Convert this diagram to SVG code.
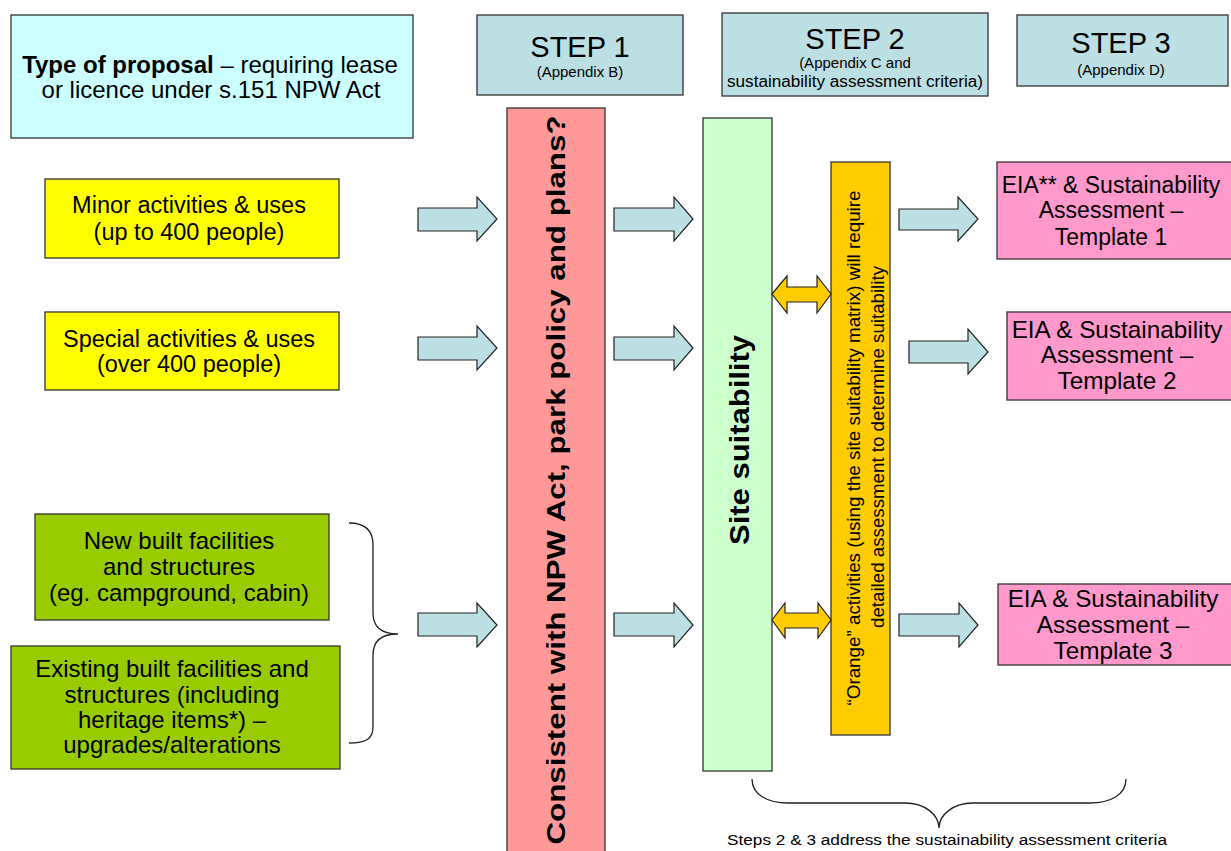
<svg xmlns="http://www.w3.org/2000/svg" width="1231" height="851" viewBox="0 0 1231 851">
<style>
text{font-family:"Liberation Sans",Arial,sans-serif;fill:#000}
.box{stroke:#333;stroke-width:1.3}
.step{fill:#BBDFE2}
.arr{fill:#BBDFE2;stroke:#222;stroke-width:1.2}
.darr{fill:#FFCC00;stroke:#222;stroke-width:1.2}
.brace{fill:none;stroke:#222;stroke-width:1.3}
.c{text-anchor:middle}
</style>
<rect width="1231" height="851" fill="#fff"/>

<g id="type-proposal">
<rect class="box" x="11" y="15" width="402" height="123" fill="#CCFFFF"/>
<text class="c" x="210" y="73" font-size="24"><tspan font-weight="bold">Type of proposal</tspan> – requiring lease</text>
<text class="c" x="211" y="98" font-size="24">or licence under s.151 NPW Act</text>
</g>

<g id="step1">
<rect class="box step" x="477" y="15" width="206" height="80"/>
<text class="c" x="580" y="57" font-size="29">STEP 1</text>
<text class="c" x="580" y="77" font-size="15">(Appendix B)</text>
</g>
<g id="step2">
<rect class="box step" x="722" y="13" width="266" height="83"/>
<text class="c" x="855" y="49" font-size="29">STEP 2</text>
<text class="c" x="855" y="68" font-size="15">(Appendix C and</text>
<text class="c" x="855" y="87" font-size="16" textLength="256" lengthAdjust="spacingAndGlyphs">sustainability assessment criteria)</text>
</g>
<g id="step3">
<rect class="box step" x="1017" y="15" width="211" height="71"/>
<text class="c" x="1121" y="53" font-size="29">STEP 3</text>
<text class="c" x="1121" y="75" font-size="15">(Appendix D)</text>
</g>

<g id="minor">
<rect class="box" x="45" y="179" width="294" height="79" fill="#FFFF00"/>
<text class="c" x="189" y="213" font-size="23.5">Minor activities &amp; uses</text>
<text class="c" x="189" y="240" font-size="23.5">(up to 400 people)</text>
</g>
<g id="special">
<rect class="box" x="45" y="312" width="294" height="78" fill="#FFFF00"/>
<text class="c" x="189" y="347" font-size="23.5">Special activities &amp; uses</text>
<text class="c" x="189" y="372" font-size="23.5">(over 400 people)</text>
</g>
<g id="new-built">
<rect class="box" x="35" y="514" width="294" height="106" fill="#99CC00"/>
<text class="c" x="179" y="549" font-size="24">New built facilities</text>
<text class="c" x="179" y="575" font-size="24">and structures</text>
<text class="c" x="179" y="601" font-size="24">(eg. campground, cabin)</text>
</g>
<g id="existing-built">
<rect class="box" x="11" y="646" width="329" height="123" fill="#99CC00"/>
<text class="c" x="172" y="677" font-size="24">Existing built facilities and</text>
<text class="c" x="172" y="703" font-size="24">structures (including</text>
<text class="c" x="172" y="728" font-size="24">heritage items*) –</text>
<text class="c" x="172" y="753" font-size="24">upgrades/alterations</text>
</g>

<g id="consistent">
<rect class="box" x="507" y="108" width="98" height="750" fill="#FF9999"/>
<text class="c" transform="translate(565,480) rotate(-90)" font-size="26.5" font-weight="bold" textLength="729" lengthAdjust="spacingAndGlyphs">Consistent with NPW Act, park policy and plans?</text>
</g>

<g id="site-suitability">
<rect class="box" x="703" y="118" width="69" height="653" fill="#CCFFCC"/>
<text class="c" transform="translate(749,440) rotate(-90)" font-size="27" font-weight="bold" textLength="210" lengthAdjust="spacingAndGlyphs">Site suitability</text>
</g>

<g id="orange">
<rect class="box" x="831" y="162" width="59" height="573" fill="#FFCC00"/>
<text class="c" transform="translate(860,448) rotate(-90)" font-size="17.5" textLength="515" lengthAdjust="spacingAndGlyphs">“Orange” activities (using the site suitability matrix) will require</text>
<text class="c" transform="translate(884,447) rotate(-90)" font-size="17.5" textLength="362" lengthAdjust="spacingAndGlyphs">detailed assessment to determine suitability</text>
</g>

<g id="template1">
<rect class="box" x="997" y="162" width="236" height="97" fill="#FF99CC"/>
<text class="c" x="1111" y="193" font-size="23">EIA** &amp; Sustainability</text>
<text class="c" x="1111" y="218" font-size="23">Assessment –</text>
<text class="c" x="1111" y="245" font-size="23">Template 1</text>
</g>
<g id="template2">
<rect class="box" x="1007" y="312" width="226" height="88" fill="#FF99CC"/>
<text class="c" x="1117" y="338" font-size="24.3">EIA &amp; Sustainability</text>
<text class="c" x="1117" y="363" font-size="24.3">Assessment –</text>
<text class="c" x="1117" y="389" font-size="24.3">Template 2</text>
</g>
<g id="template3">
<rect class="box" x="998" y="584" width="235" height="81" fill="#FF99CC"/>
<text class="c" x="1113" y="607" font-size="24.3">EIA &amp; Sustainability</text>
<text class="c" x="1113" y="633" font-size="24.3">Assessment –</text>
<text class="c" x="1113" y="659" font-size="24.3">Template 3</text>
</g>

<g id="connectors">
<path class="arr" d="M418,208 H477 V197 L497,219 L477,241 V231 H418 Z"/>
<path class="arr" d="M418,337 H477 V326 L497,348 L477,370 V360 H418 Z"/>
<path class="arr" d="M418,613 H477 V603 L497,625 L477,647 V636 H418 Z"/>
<path class="arr" d="M614,208 H674 V197 L693,219 L674,241 V231 H614 Z"/>
<path class="arr" d="M614,337 H674 V326 L693,348 L674,370 V360 H614 Z"/>
<path class="arr" d="M614,613 H674 V603 L693,625 L674,647 V636 H614 Z"/>
<path class="arr" d="M899,209 H958 V197 L978,219 L958,241 V230 H899 Z"/>
<path class="arr" d="M909,341 H968 V329 L988,352 L968,374 V363 H909 Z"/>
<path class="arr" d="M899,614 H959 V603 L978,625 L959,647 V636 H899 Z"/>
<path class="darr" d="M772,294 L787,276 V287 H817 V276 L831,294 L817,313 V302 H787 V313 Z"/>
<path class="darr" d="M772,620 L785,603 V613 H818 V603 L831,620 L818,638 V628 H785 V638 Z"/>
<path class="brace" d="M349,523 C366,523 373,531 373,545 L373,613 C373,627 381,634 398,634 C381,634 373,641 373,655 L373,727 C373,739 366,743 349,743"/>
<path class="brace" d="M752,779 C752,795 768,803 788,803 L905,803 C925,803 939,815 939,828 C939,815 953,803 973,803 L1090,803 C1110,803 1126,795 1126,779"/>
</g>

<g id="caption">
<text class="c" x="947" y="845" font-size="15.5" textLength="440" lengthAdjust="spacingAndGlyphs">Steps 2 &amp; 3 address the sustainability assessment criteria</text>
</g>
</svg>
